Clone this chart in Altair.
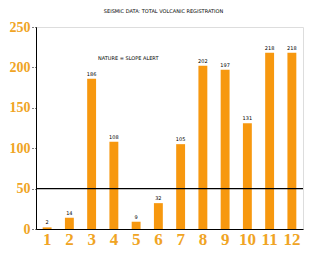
import altair as alt
import pandas as pd

months = ["1", "2", "3", "4", "5", "6", "7", "8", "9", "10", "11", "12"]
values = [2, 14, 186, 108, 9, 32, 105, 202, 197, 131, 218, 218]
threshold = [50]
title_text = "SEISMIC DATA: TOTAL VOLCANIC REGISTRATION"
note_text = "NATURE = SLOPE ALERT"

df = pd.DataFrame({"month": months, "value": values})
orange_bar = "#F7980F"
orange_lbl = "#F0A424"

x = alt.X("month:N", sort=months, title=None,
          scale=alt.Scale(paddingInner=0.6, paddingOuter=0.3),
          axis=alt.Axis(labelAngle=0, labelFont="Liberation Serif", labelFontSize=17,
                        labelColor=orange_lbl, labelFontWeight="bold", labelPadding=2,
                        domainColor="black", ticks=False))
y = alt.Y("value:Q", title=None,
          scale=alt.Scale(domain=[0, 250], nice=False),
          axis=alt.Axis(values=[0, 50, 100, 150, 200, 250], grid=False,
                        labelFont="Liberation Serif", labelFontSize=14, labelFontWeight="bold",
                        labelColor=orange_lbl, domainColor="black", tickColor="black",
                        tickSize=4, tickDash=[1, 2], labelPadding=2))

bars = alt.Chart(df).mark_bar(color=orange_bar).encode(x=x, y=y)
labels = alt.Chart(df).mark_text(fontSize=5, dy=-5, color="black", font="DejaVu Sans").encode(
    x=alt.X("month:N", sort=months), y="value:Q", text="value:Q")
rule = alt.Chart(pd.DataFrame({"t": threshold})).mark_rule(color="black", strokeWidth=1.2).encode(
    y="t:Q")
note = alt.Chart(pd.DataFrame({"n": [note_text]})).mark_text(
    fontSize=5, color="black", align="left", font="DejaVu Sans").encode(
    x=alt.value(62), y=alt.value(31), text="n:N")

chart = alt.layer(bars, rule, labels, note).properties(
    width=267, height=202,
    title=alt.TitleParams(title_text, fontSize=5, font="DejaVu Sans", fontWeight="normal",
                          color="black", offset=6, anchor="middle", dx=-6),
    autosize=alt.AutoSizeParams(type="none"),
    padding={"left": 36, "top": 27, "right": 32, "bottom": 28},
).configure_view(stroke=None).configure(background="white")

chart.save("out.html", embed_options={"renderer": "svg", "actions": False})
